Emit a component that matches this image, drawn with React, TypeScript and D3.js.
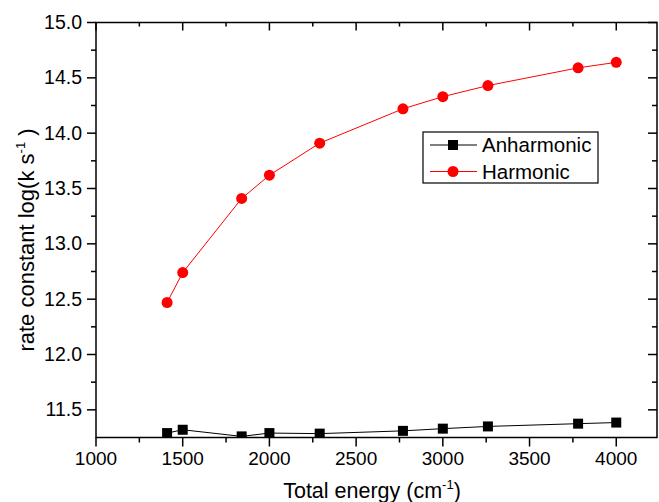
import React, { useEffect, useRef } from 'react';
import * as d3 from 'd3';

// total energy (cm-1)
const energy = [1410, 1500, 1840, 2000, 2290, 2770, 3000, 3260, 3780, 4000];
const anharmonic = [11.29, 11.32, 11.26, 11.29, 11.285, 11.31, 11.33, 11.35, 11.375, 11.385];
const harmonic = [12.47, 12.74, 13.41, 13.62, 13.91, 14.22, 14.33, 14.43, 14.59, 14.64];

const xMajor = [1000, 1500, 2000, 2500, 3000, 3500, 4000];
const xMinor = [1250, 1750, 2250, 2750, 3250, 3750];
const yMajor = [11.5, 12.0, 12.5, 13.0, 13.5, 14.0, 14.5, 15.0];
const yMinor = [11.75, 12.25, 12.75, 13.25, 13.75, 14.25, 14.75];

const seriesNames = ['Anharmonic', 'Harmonic'];

const App = () => {
  const ref = useRef<HTMLDivElement>(null);

  useEffect(() => {
    const width = 659;
    const height = 502;
    const left = 96, right = 657, top = 22.5, bottom = 437.5;
    const font = '"Liberation Sans", Arial, Helvetica, sans-serif';

    d3.select(ref.current).selectAll('*').remove();
    const svg = d3.select(ref.current)
      .append('svg')
      .attr('width', width)
      .attr('height', height)
      .style('display', 'block')
      .style('font-family', font);

    const x = d3.scaleLinear().domain([1000, 4235]).range([left, right]);
    const y = d3.scaleLinear().domain([11.25, 15]).range([bottom, top]);

    svg.append('defs').append('clipPath').attr('id', 'plotclip')
      .append('rect')
      .attr('x', left).attr('y', top)
      .attr('width', right - left).attr('height', bottom - top);

    // data
    const data = svg.append('g').attr('clip-path', 'url(#plotclip)');
    const line = (vals: number[]) => d3.line<number>()
      .x((d, i) => x(energy[i]))
      .y(d => y(d))(vals);

    data.append('path').attr('d', line(anharmonic)).attr('fill', 'none')
      .attr('stroke', 'black').attr('stroke-width', 1);
    data.append('path').attr('d', line(harmonic)).attr('fill', 'none')
      .attr('stroke', '#ff0000').attr('stroke-width', 1);

    data.selectAll('rect.sq').data(anharmonic).enter().append('rect')
      .attr('class', 'sq')
      .attr('x', (d, i) => x(energy[i]) - 5)
      .attr('y', d => y(d) - 5)
      .attr('width', 10).attr('height', 10)
      .attr('fill', 'black');
    data.selectAll('circle').data(harmonic).enter().append('circle')
      .attr('cx', (d, i) => x(energy[i]))
      .attr('cy', d => y(d))
      .attr('r', 5.5)
      .attr('fill', '#ff0000');

    // frame
    const axes = svg.append('g').attr('stroke', 'black').attr('stroke-width', 1.5);
    axes.append('rect').attr('x', left).attr('y', top)
      .attr('width', right - left).attr('height', bottom - top).attr('fill', 'none');

    xMajor.forEach(v => {
      axes.append('line').attr('x1', x(v)).attr('x2', x(v)).attr('y1', bottom).attr('y2', bottom + 9);
      axes.append('line').attr('x1', x(v)).attr('x2', x(v)).attr('y1', top).attr('y2', top + 8);
    });
    xMinor.forEach(v => {
      axes.append('line').attr('x1', x(v)).attr('x2', x(v)).attr('y1', bottom).attr('y2', bottom + 5);
      axes.append('line').attr('x1', x(v)).attr('x2', x(v)).attr('y1', top).attr('y2', top + 4);
    });
    yMajor.forEach(v => {
      axes.append('line').attr('x1', left - 9).attr('x2', left).attr('y1', y(v)).attr('y2', y(v));
      axes.append('line').attr('x1', right - 9).attr('x2', right).attr('y1', y(v)).attr('y2', y(v));
    });
    yMinor.forEach(v => {
      axes.append('line').attr('x1', left - 5).attr('x2', left).attr('y1', y(v)).attr('y2', y(v));
      axes.append('line').attr('x1', right - 5).attr('x2', right).attr('y1', y(v)).attr('y2', y(v));
    });

    // tick labels
    svg.append('g').selectAll('text').data(xMajor).enter().append('text')
      .attr('x', d => x(d)).attr('y', 465)
      .attr('text-anchor', 'middle')
      .style('font-size', '19px')
      .text(d => d);
    svg.append('g').selectAll('text').data(yMajor).enter().append('text')
      .attr('x', 82).attr('y', d => y(d) + 6.5)
      .attr('text-anchor', 'end')
      .style('font-size', '19.5px')
      .text(d => d.toFixed(1));

    // axis titles
    const xt = svg.append('text').attr('x', 372).attr('y', 498)
      .attr('text-anchor', 'middle').style('font-size', '21.5px');
    xt.append('tspan').text('Total energy (cm');
    xt.append('tspan').attr('dy', -9).style('font-size', '13px').text('-1');
    xt.append('tspan').attr('dy', 9).text(')');

    const yt = svg.append('text')
      .attr('transform', 'translate(34,240) rotate(-90)')
      .attr('text-anchor', 'middle').style('font-size', '22px');
    yt.append('tspan').text('rate constant log(k s');
    yt.append('tspan').attr('dy', -9).style('font-size', '13px').text('-1');
    yt.append('tspan').attr('dy', 9).text(' )');

    // legend
    const lg = svg.append('g');
    lg.append('rect').attr('x', 423).attr('y', 132).attr('width', 175).attr('height', 51)
      .attr('fill', 'white').attr('stroke', 'black').attr('stroke-width', 1.2);
    seriesNames.forEach((name, i) => {
      const ly = 145 + i * 26.5;
      const col = i === 0 ? 'black' : '#ff0000';
      lg.append('line').attr('x1', 430).attr('x2', 477).attr('y1', ly).attr('y2', ly)
        .attr('stroke', col).attr('stroke-width', 1);
      if (i === 0) {
        lg.append('rect').attr('x', 448).attr('y', ly - 5).attr('width', 10).attr('height', 10).attr('fill', col);
      } else {
        lg.append('circle').attr('cx', 453).attr('cy', ly).attr('r', 5.5).attr('fill', col);
      }
      lg.append('text').attr('x', 482).attr('y', ly + 7)
        .style('font-size', '20.5px').text(name);
    });
  }, []);

  return (
    <div ref={ref} style={{ position: 'absolute', left: 0, top: 0 }}></div>
  );
};

export default App;
